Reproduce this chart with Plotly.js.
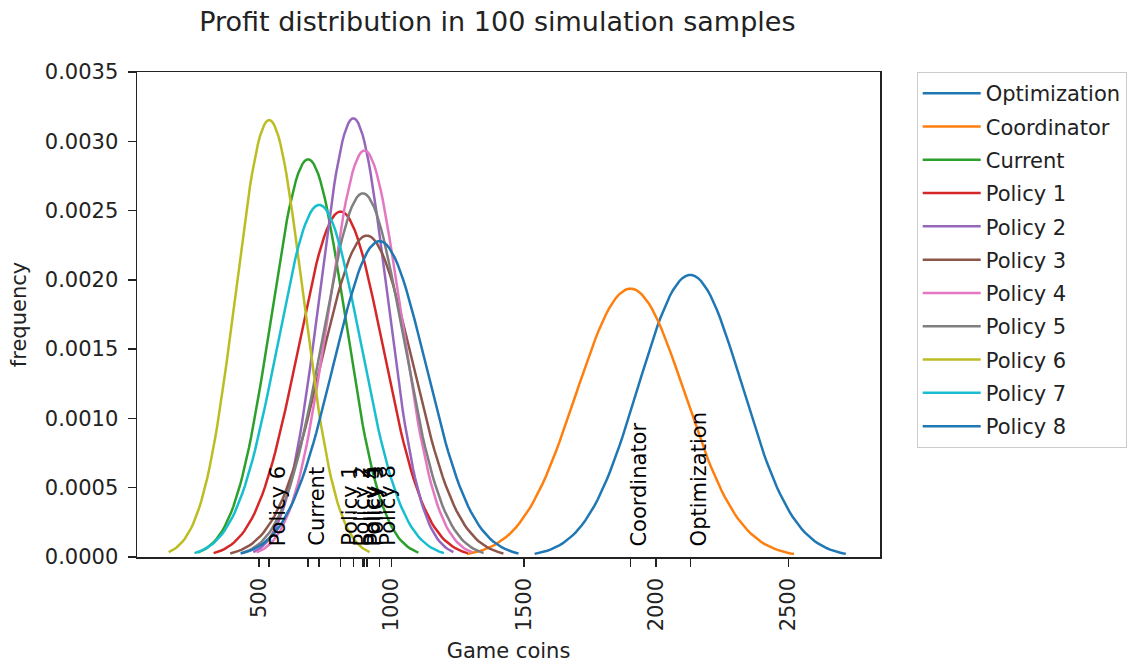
<!DOCTYPE html>
<html>
<head>
<meta charset="utf-8">
<script src="https://cdn.plot.ly/plotly-3.0.1.min.js"></script>
<style>html,body{margin:0;padding:0;background:#fff;}#chart{width:1138px;height:664px;}</style>
</head>
<body>
<div id="chart"></div>
<script>
// Series: mean and standard deviation of each profit distribution
const names  = ['Optimization','Coordinator','Current','Policy 1','Policy 2','Policy 3','Policy 4','Policy 5','Policy 6','Policy 7','Policy 8'];
const means  = [2129, 1903, 685, 808, 856, 907, 898, 892, 538, 727, 955];
const stds   = [196, 206, 139, 160, 126, 172, 136, 152, 126.5, 157, 175];
const colors = ['#1f77b4','#ff7f0e','#2ca02c','#d62728','#9467bd','#8c564b','#e377c2','#7f7f7f','#bcbd22','#17becf','#1f77b4'];
// names that carry a vertical label at their mean
const labelNames = ['Optimization','Coordinator','Current','Policy 1','Policy 2','Policy 3','Policy 4','Policy 5','Policy 6','Policy 8'];
const xTicks = [500, 1000, 1500, 2000, 2500];
const yTicks = [0, 0.0005, 0.001, 0.0015, 0.002, 0.0025, 0.003, 0.0035];
const labelY = 0.0001;

const FONT = 'DejaVu Sans, sans-serif';
const nPts = 100;
const traces = names.map((n, i) => {
  const mu = means[i], sd = stds[i];
  const xs = [], ys = [];
  for (let k = 0; k < nPts; k++) {
    const x = mu - 3*sd + 6*sd*k/(nPts-1);
    xs.push(x);
    ys.push(Math.exp(-0.5*((x-mu)/sd)**2)/(sd*Math.sqrt(2*Math.PI)));
  }
  return {x: xs, y: ys, type: 'scatter', mode: 'lines', name: n, legendgroup: 'g'+i,
          line: {color: colors[i], width: 2.5}, hoverinfo: 'skip'};
});

const annotations = labelNames.map(n => {
  const i = names.indexOf(n);
  return {x: means[i], y: labelY, xref: 'x', yref: 'y', text: n, showarrow: false,
          textangle: -90, xanchor: 'left', yanchor: 'bottom', xshift: -4, yshift: -4,
          font: {family: FONT, size: 21, color: '#000'}, borderpad: 0};
});

const axisCommon = {showline: true, mirror: true, linecolor: '#222', linewidth: 1.5,
  ticks: 'outside', ticklen: 8, tickwidth: 1.5, tickcolor: '#222', showgrid: false, zeroline: false,
  tickfont: {family: FONT, size: 21, color: '#222'}};

const layout = {
  width: 1138, height: 664, autosize: false,
  margin: {l: 137, r: 257, t: 72, b: 107},
  paper_bgcolor: '#fff', plot_bgcolor: '#fff',
  font: {family: FONT, size: 21, color: '#222'},
  title: {text: 'Profit distribution in 100 simulation samples', font: {family: FONT, size: 27, color: '#222'},
          xref: 'container', x: 0.437, xanchor: 'center', yref: 'container', y: 0.967, yanchor: 'middle'},
  xaxis: Object.assign({}, axisCommon, {range: [38.5, 2846], tickmode: 'array', tickvals: xTicks,
          ticktext: xTicks.map(String), tickangle: -90, ticklabelstandoff: 3,
          minor: {tickmode: 'array', tickvals: means, ticks: 'outside', ticklen: 8, tickwidth: 1.5, tickcolor: '#222', showgrid: false},
          title: {text: 'Game coins', font: {family: FONT, size: 21, color: '#222'}, standoff: 13}}),
  yaxis: Object.assign({}, axisCommon, {range: [0, 0.0035], tickmode: 'array', tickvals: yTicks,
          tickformat: '.4f', ticklabelstandoff: 5,
          title: {text: 'frequency', font: {family: FONT, size: 21, color: '#222'}, standoff: 12}}),
  legend: {x: 1.048, xanchor: 'left', y: 1.0, yanchor: 'top', bgcolor: '#fff', bordercolor: '#ccc', borderwidth: 1,
           font: {family: FONT, size: 21, color: '#222'}, tracegroupgap: 3, itemwidth: 58},
  annotations: annotations,
  showlegend: true
};

Plotly.newPlot('chart', traces, layout, {displayModeBar: false, staticPlot: true});
</script>
</body>
</html>
